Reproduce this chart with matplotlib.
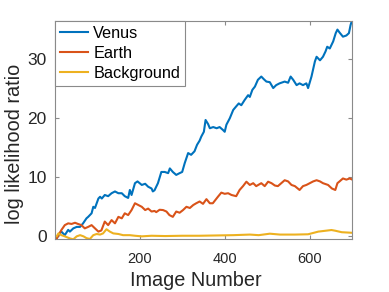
import matplotlib
matplotlib.use("Agg")
import matplotlib.pyplot as plt

plt.rcParams['font.family'] = ['Liberation Sans', 'DejaVu Sans']

# Venus
img_venus = [0, 5, 12, 16, 24, 32, 36, 44, 52, 60, 67, 75, 79, 87, 91, 95, 99, 103, 107, 111,
             118, 126, 134, 142, 150, 158, 165, 173, 177, 181, 189, 195, 205, 213, 220, 228, 231,
             235, 243, 251, 259, 267, 271, 278, 286, 294, 300, 306, 314, 321, 329, 335, 341, 345,
             351, 355, 361, 365, 373, 381, 388, 396, 400, 404, 412, 420, 427, 433, 439, 447, 455,
             459, 465, 471, 478, 486, 492, 498, 506, 514, 521, 529, 541, 549, 555, 561, 569, 576,
             584, 592, 596, 604, 612, 616, 624, 631, 637, 641, 647, 655, 661, 665, 670, 678, 686,
             692, 696, 700]
venus = [-0.2, -0.3, 0.5, 0.8, 0.2, 1.1, 0.8, 1.35, 1.6, 1.6, 2.2, 3.05, 3.3, 3.9, 5.0, 4.8, 5.6,
         6.4, 6.7, 6.4, 7.0, 6.8, 7.3, 7.6, 7.3, 7.3, 6.8, 6.5, 7.85, 7.0, 9.0, 9.3, 8.7, 8.9, 8.4,
         8.1, 7.6, 7.8, 9.0, 10.9, 10.9, 10.7, 11.5, 10.9, 10.4, 10.7, 10.9, 12.4, 14.1, 13.8,
         14.4, 15.5, 16.2, 16.9, 17.7, 19.7, 19.0, 18.3, 18.5, 18.3, 18.5, 18.0, 17.7, 18.9, 20.0,
         21.4, 22.0, 22.5, 22.2, 23.1, 23.9, 23.6, 24.8, 25.35, 26.5, 27.05, 26.6, 26.2, 26.1,
         25.1, 25.6, 25.9, 26.2, 26.0, 27.05, 26.5, 25.6, 25.9, 25.6, 25.9, 25.1, 27.05, 29.6,
         30.4, 29.8, 30.4, 31.3, 32.1, 31.8, 33.0, 34.4, 35.0, 34.5, 33.8, 34.0, 34.4, 35.8, 36.7]

# Earth
img_earth = [0, 5, 9, 16, 24, 32, 40, 48, 55, 63, 71, 79, 87, 95, 103, 110, 118, 126, 134, 142,
             150, 158, 165, 173, 181, 189, 197, 205, 213, 220, 228, 235, 239, 247, 255, 263, 270,
             278, 286, 294, 302, 310, 318, 326, 333, 341, 349, 357, 365, 372, 384, 392, 400, 408,
             416, 427, 435, 443, 451, 459, 467, 474, 486, 494, 502, 510, 518, 525, 533, 541, 549,
             557, 565, 576, 584, 592, 600, 608, 616, 624, 631, 643, 652, 660, 665, 670, 678, 686,
             694, 700]
earth = [-0.3, -0.4, 0.2, 1.07, 1.9, 2.2, 2.1, 2.3, 2.1, 1.9, 1.35, 1.6, 1.9, 1.35, 0.8, 1.0,
         2.5, 1.9, 2.75, 2.2, 3.3, 3.05, 3.9, 3.6, 4.45, 5.6, 5.3, 5.0, 4.45, 4.7, 4.2, 4.3, 4.1,
         4.5, 4.45, 4.2, 3.6, 3.3, 4.2, 4.0, 4.45, 5.0, 4.8, 5.3, 5.6, 5.9, 5.5, 6.3, 5.6, 5.6,
         6.7, 7.4, 7.2, 7.3, 7.0, 6.8, 7.85, 8.5, 9.25, 8.7, 9.0, 8.5, 9.0, 8.5, 9.25, 9.0, 8.6,
         8.5, 9.0, 9.5, 9.3, 8.7, 8.5, 7.85, 8.5, 8.7, 9.0, 9.3, 9.5, 9.3, 9.0, 8.7, 8.1, 7.85,
         9.0, 9.3, 9.8, 9.6, 9.8, 9.6]

# Background
img_bg = [0, 5, 9, 16, 24, 36, 44, 52, 60, 68, 75, 83, 91, 99, 107, 114, 122, 130, 138, 150,
          161, 177, 189, 205, 228, 260, 300, 340, 380, 420, 459, 480, 506, 530, 565, 596, 620,
          651, 660, 675, 700]
background = [0.0, 0.0, 0.5, 0.2, 0.0, -0.35, -0.5, 0.0, 0.2, 0.0, -0.3, -0.45, 0.2, 0.4, 0.3,
              0.5, 1.2, 0.8, 0.5, 0.4, 0.2, 0.2, 0.1, 0.0, 0.1, 0.05, 0.1, 0.1, 0.15, 0.2, 0.3,
              0.2, 0.45, 0.3, 0.3, 0.35, 0.8, 1.07, 0.95, 0.7, 0.6]

fig = plt.figure(figsize=(3.89, 2.92), dpi=100)
ax = fig.add_axes([0.1414, 0.1815, 0.7643, 0.7475])

ax.plot(img_venus, venus, color='#0072BD', lw=1.5, label='Venus')
ax.plot(img_earth, earth, color='#D95319', lw=1.5, label='Earth')
ax.plot(img_bg, background, color='#EDB120', lw=1.5, label='Background')

ax.set_xlim(1, 700)
ax.set_ylim(-0.45, 36.5)
ax.set_xticks([200, 400, 600])
ax.set_yticks([0, 10, 20, 30])

for s in ax.spines.values():
    s.set_color('#8a8a8a')
    s.set_linewidth(0.8)
ax.tick_params(direction='in', top=True, right=True, length=3, width=0.8, color='#8a8a8a',
               labelcolor='#262626')
ax.tick_params(axis='x', labelsize=10.5, pad=9)
ax.tick_params(axis='y', labelsize=12.5, pad=6)

ax.set_xlabel('Image Number', fontsize=14.3, color='#262626')
ax.set_ylabel('log likelihood ratio', fontsize=14.3, color='#262626')
ax.xaxis.set_label_coords(0.473, -0.145)
ax.yaxis.set_label_coords(-0.104, 0.435)

leg = ax.legend(loc='upper left', bbox_to_anchor=(0, 1), borderaxespad=0, fontsize=11.7,
                fancybox=False, framealpha=1, edgecolor='#8a8a8a', handlelength=1.75,
                handletextpad=0.3, labelspacing=0.32, borderpad=0.3)
leg.get_frame().set_linewidth(0.8)

fig.savefig('out.png', dpi=100)
